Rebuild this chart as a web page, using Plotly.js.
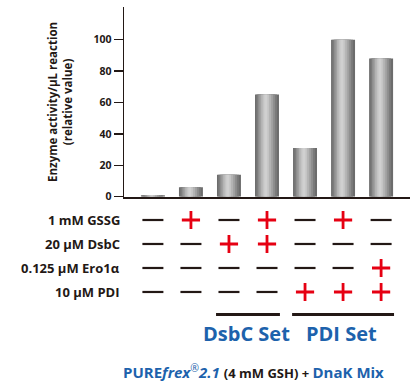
<!DOCTYPE html>
<html>
<head>
<meta charset="utf-8">
<script src="https://cdn.plot.ly/plotly-3.0.1.min.js"></script>
<style>html,body{margin:0;padding:0;background:#fff;}#chart{width:419px;height:387px;}</style>
</head>
<body>
<div id="chart"></div>
<script>
// ---- data ----
const conditions = [0, 1, 2, 3, 4, 5, 6];
const activity = [1, 6, 14, 65, 31, 100, 88];
const yTicks = [0, 20, 40, 60, 80, 100];
const rowLabels = ['1 mM GSSG', '20 μM DsbC', '0.125 μM Ero1α', '10 μM PDI'];
const gssg = [0, 1, 0, 1, 0, 1, 0];
const dsbc = [0, 0, 1, 1, 0, 0, 0];
const ero1 = [0, 0, 0, 0, 0, 0, 1];
const pdi  = [0, 0, 0, 0, 1, 1, 1];
const setLabels = ['DsbC Set', 'PDI Set'];
const setMembers = [[2, 3], [4, 5, 6]];
const yTitle = 'Enzyme activity/μL reaction<br>(relative value)';

// ---- styling ----
const ink = '#231815';
const red = '#e60012';
const blue = '#1d62ac';
const FONT = 'Open Sans, sans-serif';

const traces = [];
// cylindrical gradient via layered bars
const layers = [
  {w: 0.63, c: '#6c6c6c', s: 0},
  {w: 0.54, c: '#7b7b7b', s: -0.01},
  {w: 0.45, c: '#8d8d8d', s: -0.015},
  {w: 0.36, c: '#a0a0a0', s: -0.02},
  {w: 0.27, c: '#b3b3b3', s: -0.025},
  {w: 0.17, c: '#c4c4c4', s: -0.03},
  {w: 0.08, c: '#d0d0d0', s: -0.03}
];
layers.forEach(L => {
  traces.push({
    type: 'bar', x: conditions, y: activity,
    width: L.w, offset: -L.w / 2 + L.s,
    marker: {color: L.c, line: {width: 0}},
    xaxis: 'x', yaxis: 'y', hoverinfo: 'skip', showlegend: false
  });
});

// condition table
const rows = [gssg, dsbc, ero1, pdi];
rows.forEach((flags, r) => {
  const onX = [], offX = [];
  flags.forEach((f, i) => (f ? onX : offX).push(conditions[i]));
  traces.push({
    type: 'scatter', mode: 'markers', x: offX, y: offX.map(() => rowLabels[r]),
    marker: {symbol: 'line-ew', size: 15, line: {width: 2.2, color: ink}},
    xaxis: 'x', yaxis: 'y2', hoverinfo: 'skip', showlegend: false, cliponaxis: false
  });
  traces.push({
    type: 'scatter', mode: 'markers', x: onX, y: onX.map(() => rowLabels[r]),
    marker: {symbol: 'cross-thin', size: 13, line: {width: 2.8, color: red}},
    xaxis: 'x', yaxis: 'y2', hoverinfo: 'skip', showlegend: false, cliponaxis: false
  });
});

const shapes = setMembers.map(m => ({
  type: 'line', xref: 'x', yref: 'paper',
  x0: Math.min(...m) - 0.34, x1: Math.max(...m) + 0.34, y0: 0.191, y1: 0.191,
  line: {color: ink, width: 3}
}));

const annotations = setMembers.map((m, k) => ({
  xref: 'x', yref: 'paper', x: m.reduce((a, b) => a + b, 0) / m.length - 0.03, y: 0.142,
  text: '<b>' + setLabels[k] + '</b>', showarrow: false,
  font: {family: FONT, size: 20, color: blue}, xanchor: 'center', yanchor: 'middle'
}));
rowLabels.forEach(lbl => annotations.push({
  xref: 'paper', yref: 'y2', x: -0.007, y: lbl, text: '<b>' + lbl + '</b>',
  showarrow: false, xanchor: 'right', yanchor: 'middle',
  font: {family: FONT, size: 13, color: ink}
}));
annotations.push({
  xref: 'paper', yref: 'paper', x: -0.224, y: 0.75, textangle: -90,
  text: '<b>' + yTitle + '</b>', showarrow: false,
  font: {family: FONT, size: 11.5, color: ink}, xanchor: 'center', yanchor: 'middle'
});
annotations.push({
  xref: 'paper', yref: 'paper', x: 0.453, y: 0.04,
  text: '<b>PURE<i>frex</i></b><sup>®</sup><b><i>2.1</i></b> <span style="color:' + ink + ';font-size:13px"><b>(4 mM GSH) + </b></span><b>DnaK Mix</b>',
  showarrow: false, font: {family: FONT, size: 15, color: blue}, xanchor: 'center', yanchor: 'middle'
});

const layout = {
  width: 419, height: 387,
  margin: {l: 124, r: 9, t: 7, b: 0, pad: 0},
  paper_bgcolor: '#fff', plot_bgcolor: 'rgba(0,0,0,0)',
  barmode: 'overlay',
  showlegend: false,
  font: {family: FONT, color: ink},
  xaxis: {
    range: [-0.76, 6.76], showticklabels: false, ticks: '', showgrid: false, zeroline: false,
    showline: true, linecolor: ink, linewidth: 2, anchor: 'y', fixedrange: true
  },
  yaxis: {
    domain: [0.5008, 1], range: [0, 120.8], tickvals: yTicks, ticks: 'outside', ticklen: 9,
    tickwidth: 1.5, tickcolor: ink, showline: true, linecolor: ink, linewidth: 1.5,
    showgrid: false, zeroline: false, anchor: 'x',
    tickfont: {family: FONT, size: 10.5, color: ink, weight: 'bold'}
  },
  yaxis2: {
    domain: [0, 0.49], type: 'category', categoryarray: rowLabels, range: [6.96, -0.8],
    anchor: 'x', showline: false, showgrid: false, zeroline: false, ticks: '',
    showticklabels: false
  },
  shapes: shapes,
  annotations: annotations
};

Plotly.newPlot('chart', traces, layout, {displayModeBar: false, staticPlot: true});
</script>
</body>
</html>
